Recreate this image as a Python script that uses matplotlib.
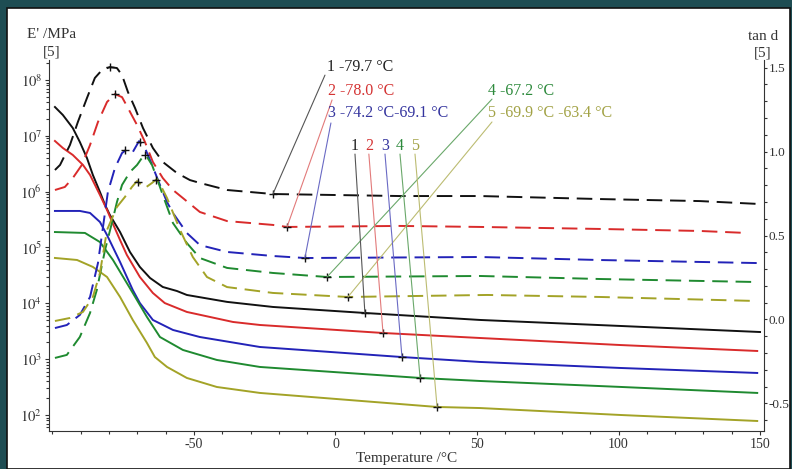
import numpy as np
import matplotlib
matplotlib.use('Agg')
import matplotlib.pyplot as plt
from matplotlib.patches import Rectangle
from matplotlib.ticker import FixedLocator, MultipleLocator, FuncFormatter

plt.rcParams['font.family'] = ['Liberation Serif', 'DejaVu Serif']
plt.rcParams['mathtext.fontset'] = 'stix'
plt.rcParams['axes.unicode_minus'] = False

# --- tan d curves (right axis), dashed ---
t_tan1 = [-99.1, -97.3, -93.8, -91.0, -87.8, -85.0, -82.5, -79.7, -77.2, -75.4, -73.3, -70.8, -68.0, -64.5, -61.0, -56.0, -51.4, -47.9, -38.3, -22.1, 22.8, 51.1, 93.5, 128.8, 149.3]
tan1 = [0.890, 0.920, 1.039, 1.176, 1.318, 1.438, 1.485, 1.503, 1.497, 1.455, 1.354, 1.259, 1.140, 1.021, 0.938, 0.872, 0.830, 0.813, 0.771, 0.747, 0.735, 0.735, 0.717, 0.705, 0.688]

t_tan2 = [-99.1, -95.6, -92.8, -89.6, -86.7, -83.9, -80.7, -77.9, -75.4, -73.3, -70.1, -67.3, -64.5, -61.0, -57.4, -53.9, -47.9, -38.3, -22.1, -17.1, 22.8, 51.1, 93.5, 128.8, 145.4]
tan2 = [0.771, 0.789, 0.842, 0.920, 1.039, 1.176, 1.295, 1.342, 1.324, 1.259, 1.158, 1.057, 0.938, 0.842, 0.771, 0.723, 0.640, 0.586, 0.563, 0.551, 0.557, 0.551, 0.539, 0.527, 0.515]

t_tan3 = [-99.1, -94.9, -90.3, -86.7, -83.9, -80.4, -77.9, -75.4, -74.0, -71.6, -69.4, -67.3, -64.8, -62.0, -59.5, -57.4, -52.5, -47.9, -38.3, -22.1, -10.8, 51.1, 93.5, 149.0]
tan3 = [-0.051, -0.033, 0.027, 0.134, 0.336, 0.759, 0.902, 0.991, 1.009, 0.997, 1.062, 1.021, 0.920, 0.801, 0.699, 0.634, 0.515, 0.443, 0.402, 0.378, 0.366, 0.372, 0.354, 0.336]

t_tan4 = [-99.1, -94.9, -90.3, -86.7, -84.3, -81.4, -78.9, -77.2, -75.4, -72.6, -70.1, -68.4, -67.0, -64.8, -63.1, -61.0, -57.4, -52.5, -47.9, -38.3, -22.1, -3.0, 51.1, 93.5, 149.0]
tan4 = [-0.229, -0.211, -0.104, 0.039, 0.176, 0.414, 0.580, 0.699, 0.801, 0.878, 0.920, 0.961, 0.979, 0.920, 0.842, 0.741, 0.574, 0.455, 0.366, 0.307, 0.277, 0.253, 0.259, 0.241, 0.223]

t_tan5 = [-99.1, -93.8, -89.2, -85.7, -83.2, -80.7, -77.2, -74.4, -71.9, -70.1, -67.3, -64.8, -63.1, -61.3, -59.5, -54.9, -50.4, -45.4, -38.3, -22.1, 4.4, 53.6, 93.5, 149.0]
tan5 = [-0.009, 0.009, 0.045, 0.134, 0.277, 0.533, 0.670, 0.729, 0.789, 0.824, 0.783, 0.813, 0.836, 0.783, 0.723, 0.533, 0.372, 0.253, 0.193, 0.158, 0.134, 0.146, 0.134, 0.110]

# --- E' curves (left axis, MPa), solid ---
t_e1 = [-99.1, -96.3, -92.8, -90.3, -87.8, -85.7, -83.2, -81.4, -79.7, -76.1, -72.6, -69.1, -65.5, -61.0, -56.0, -52.5, -38.3, -22.1, 10.4, 51.1, 100.5, 150.0]
e1 = [3.28e7, 2.36e7, 1.38e7, 7.75e6, 4.01e6, 1.99e6, 9.86e5, 5.77e5, 3.82e5, 1.89e5, 8.30e4, 4.48e4, 2.84e4, 1.96e4, 1.66e4, 1.41e4, 1.06e4, 8.60e3, 6.71e3, 5.03e3, 3.93e3, 3.06e3]

t_e2 = [-99.1, -96.3, -92.8, -89.2, -86.7, -83.2, -80.7, -78.6, -76.1, -73.7, -69.1, -64.5, -60.3, -52.5, -36.2, -26.7, 16.8, 51.1, 100.5, 149.0]
e2 = [8.08e6, 6.05e6, 4.54e6, 3.01e6, 1.99e6, 8.71e5, 4.70e5, 2.64e5, 1.36e5, 7.35e4, 2.96e4, 1.53e4, 1.01e4, 7.00e3, 4.63e3, 4.09e3, 2.94e3, 2.39e3, 1.79e3, 1.40e3]

t_e3 = [-99.1, -90.3, -86.7, -83.2, -80.7, -76.1, -71.6, -69.1, -64.5, -57.4, -47.9, -26.7, 23.5, 51.1, 100.5, 149.0]
e3 = [4.51e5, 4.51e5, 4.15e5, 2.86e5, 1.67e5, 5.50e4, 1.73e4, 1.01e4, 5.03e3, 3.33e3, 2.49e3, 1.65e3, 1.09e3, 8.90e2, 6.95e2, 5.65e2]

t_e4 = [-99.1, -88.5, -83.2, -78.6, -71.6, -66.6, -62.0, -53.9, -41.9, -26.7, 29.9, 51.1, 100.5, 149.0]
e4 = [1.89e5, 1.82e5, 1.25e5, 5.97e4, 1.53e4, 5.69e3, 2.49e3, 1.46e3, 9.66e2, 7.24e2, 4.60e2, 4.06e2, 3.18e2, 2.48e2]

t_e5 = [-99.1, -91.3, -85.7, -80.7, -76.1, -71.6, -66.6, -63.8, -59.5, -52.5, -41.9, -26.7, 35.9, 51.1, 100.5, 149.0]
e5 = [6.49e4, 5.97e4, 4.48e4, 2.96e4, 1.30e4, 5.03e3, 1.95e3, 1.09e3, 7.24e2, 4.60e2, 3.17e2, 2.48e2, 1.39e2, 1.33e2, 1.00e2, 78]

# peak temperatures (tan d) and marked temperatures for the labels
peaks = [[-79.7], [-78.0], [-74.2, -69.1], [-67.2], [-69.9, -63.4]]
tan_marks = [-22.1, -17.1, -10.8, -3.0, 4.4]
e_marks = [10.4, 16.8, 23.5, 29.9, 35.9]
peak_labels = ['1 -79.7 °C', '2 -78.0 °C', '3 -74.2 °C-69.1 °C', '4 -67.2 °C', '5 -69.9 °C -63.4 °C']
curve_ids = ['1', '2', '3', '4', '5']

colors = ['#111111', '#d92b2b', '#2323b8', '#1f8a30', '#a3a327']
text_colors = ['#222222', '#d43333', '#34349e', '#2d8a3c', '#a2a245']
leader_colors = ['#555555', '#e27a7a', '#6a6ac4', '#6aa86a', '#bcbc72']

t_tan = [t_tan1, t_tan2, t_tan3, t_tan4, t_tan5]
tans = [tan1, tan2, tan3, tan4, tan5]
t_e = [t_e1, t_e2, t_e3, t_e4, t_e5]
es = [e1, e2, e3, e4, e5]

fig = plt.figure(figsize=(7.92, 4.69), dpi=100)
fig.patch.set_facecolor('#1e4d53')
fig.add_artist(Rectangle((7 / 792, 0), 783 / 792, 461 / 469, transform=fig.transFigure,
                         facecolor='white', edgecolor='#111111', lw=1.2, zorder=0))

ax = fig.add_axes([49 / 792, 1 - 431 / 469, 715 / 792, 371 / 469])
ax.set_facecolor('none')
ax2 = ax.twinx()
ax2.set_facecolor('none')

for i in range(5):
    ax.plot(t_e[i], es[i], color=colors[i], lw=1.4, solid_joinstyle='round')
    ax2.plot(t_tan[i], tans[i], color=colors[i], lw=1.4, linestyle=(0, (8, 4)))
    # peak markers
    for p in peaks[i]:
        ax2.plot(p, np.interp(p, t_tan[i], tans[i]), marker='+', color='#111111', ms=6, mew=1)
    ax2.plot(tan_marks[i], np.interp(tan_marks[i], t_tan[i], tans[i]), marker='+', color='#111111', ms=6, mew=1)
    ax.plot(e_marks[i], np.exp(np.interp(e_marks[i], t_e[i], np.log(es[i]))), marker='+', color='#111111', ms=6, mew=1)

ax.set_yscale('log')
ax.set_xlim(-101.2, 151.4)
ax.set_ylim(51.6, 2.28e8)
ax2.set_ylim(-0.664, 1.545)

# peak labels with leader lines
label_pos = [(-3.0, 1.503), (-2.7, 1.360), (-2.7, 1.229), (53.9, 1.360), (53.9, 1.229)]
leader_start = [(-3.7, 1.455), (-1.2, 1.307), (-1.6, 1.170), (55.3, 1.312), (55.3, 1.176)]
for i in range(5):
    ax2.text(label_pos[i][0], label_pos[i][1], peak_labels[i], color=text_colors[i],
             fontsize=11.5, ha='left', va='center')
    tx = tan_marks[i]
    ax2.annotate('', xy=(tx, np.interp(tx, t_tan[i], tans[i])), xytext=leader_start[i],
                 arrowprops=dict(arrowstyle='-', color=leader_colors[i], lw=0.8, shrinkA=0, shrinkB=0))

# curve numbers for E' with leader lines
id_x = [6.9, 11.8, 17.5, 22.8, 28.1]
for i in range(5):
    ax2.text(id_x[i], 1.035, curve_ids[i], color=text_colors[i], fontsize=11.5, ha='center', va='center')
    ex = e_marks[i]
    ey = np.exp(np.interp(ex, t_e[i], np.log(es[i])))
    ax2.annotate('', xy=(ex, ey), xycoords=ax.transData, xytext=(id_x[i], 0.985), textcoords=ax2.transData,
                 arrowprops=dict(arrowstyle='-', color=leader_colors[i], lw=0.8, shrinkA=0, shrinkB=0))

# axes styling
for a in (ax, ax2):
    a.spines['top'].set_visible(False)
ax.spines['right'].set_visible(False)
ax2.spines['left'].set_visible(False)
ax2.spines['bottom'].set_visible(False)
for s in ('left', 'bottom'):
    ax.spines[s].set_color('#333333')
ax2.spines['right'].set_color('#333333')

ax.xaxis.set_major_locator(FixedLocator([-50, 0, 50, 100, 150]))
ax.xaxis.set_minor_locator(MultipleLocator(10))
ax.yaxis.set_major_formatter(FuncFormatter(lambda v, pos: r'$10^{%d}$' % round(np.log10(v))))
ax2.yaxis.set_major_locator(FixedLocator([-0.5, 0.0, 0.5, 1.0, 1.5]))
ax2.yaxis.set_minor_locator(MultipleLocator(0.1))
ax2.yaxis.set_major_formatter(FuncFormatter(lambda v, pos: '%.1f' % v))

ax.tick_params(which='both', direction='out', labelsize=10.5, colors='#333333', length=3, width=0.8, pad=2)
ax.tick_params(axis='x', labelsize=10)
ax.tick_params(which='minor', length=2)
ax2.tick_params(which='both', direction='out', labelsize=9.5, colors='#333333', length=2.5, width=0.8, pad=1)
ax2.tick_params(which='minor', length=2)

ax.set_xlabel('Temperature /°C', fontsize=11, color='#333333', labelpad=1)
fig.text(27 / 792, 1 - 35 / 469, "E' /MPa", fontsize=11, color='#333333', ha='left', va='center')
fig.text(52 / 792, 1 - 52 / 469, '[5]', fontsize=11, color='#333333', ha='center', va='center')
fig.text(763 / 792, 1 - 37 / 469, 'tan d', fontsize=11, color='#333333', ha='center', va='center')
fig.text(763 / 792, 1 - 53 / 469, '[5]', fontsize=11, color='#333333', ha='center', va='center')

fig.savefig('out.png', dpi=100, facecolor=fig.get_facecolor())
